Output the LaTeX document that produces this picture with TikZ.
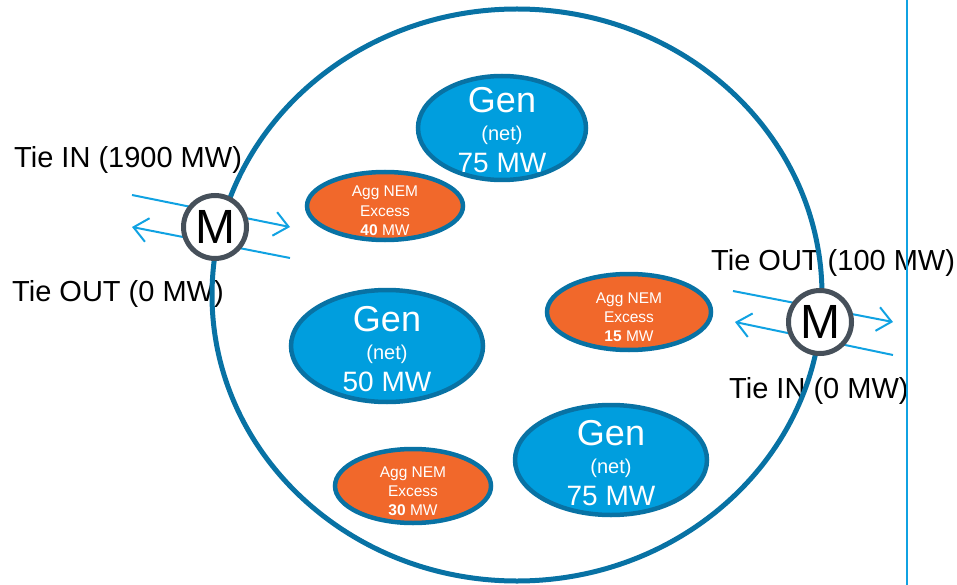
\documentclass[tikz,border=0pt]{standalone}
\usepackage{fontspec}
\setmainfont{Liberation Sans}
\usetikzlibrary{shapes.geometric,arrows.meta,calc}
\definecolor{rimblue}{RGB}{8,114,164}
\definecolor{genblue}{RGB}{0,158,222}
\definecolor{nemorange}{RGB}{241,104,43}
\definecolor{tieblue}{RGB}{16,162,226}
\definecolor{meter}{RGB}{70,80,90}
\begin{document}
\begin{tikzpicture}[x=1pt,y=-1pt,
  zone/.style={ellipse, draw=rimblue, line width=5pt, inner sep=0},
  genbox/.style={ellipse, draw=rimblue, fill=genblue, line width=4.5pt, inner sep=0},
  nembox/.style={ellipse, draw=rimblue, fill=nemorange, line width=4.5pt, inner sep=0},
  meterbox/.style={circle, draw=meter, fill=white, line width=5pt, minimum size=63pt, inner sep=0, font=\fontsize{48}{48}\selectfont},
  tie/.style={draw=tieblue, line width=2pt, -{Straight Barb[length=14pt,width=24pt,line width=2pt]}},
  tielabel/.style={font=\fontsize{29}{34}\selectfont, inner sep=0, anchor=base west},
  genbig/.style={text=white, font=\fontsize{36}{40}\selectfont, inner sep=0, anchor=base},
  gensmall/.style={text=white, font=\fontsize{20}{24}\selectfont, inner sep=0, anchor=base},
  genmw/.style={text=white, font=\fontsize{28}{32}\selectfont, inner sep=0, anchor=base},
  nemtext/.style={text=white, font=\fontsize{15.5}{18}\selectfont, inner sep=0, anchor=base},
  vline/.style={draw=tieblue, line width=2pt}
]
\useasboundingbox (0,0) rectangle (957,585);

% labels
\node[tielabel] (tinl) at (14,168) {Tie IN (1900 MW)};
\node[tielabel] (toutl) at (12,301) {Tie OUT (0 MW)};
\node[tielabel] (toutr) at (711,270) {Tie OUT (100 MW)};
\node[tielabel] (tinr) at (729,398) {Tie IN (0 MW)};

% zone boundary
\node[zone, minimum width=610pt, minimum height=572pt] (zone) at (517,295) {};

% vertical line
\coordinate (vtop) at (907,0);
\coordinate (vbot) at (907,585);
\draw[vline] (vtop) -- (vbot);

% tie arrows
\coordinate (la1) at (132,195);
\coordinate (la2) at (290,227);
\coordinate (lb1) at (290,258);
\coordinate (lb2) at (132,227);
\coordinate (ra1) at (733,291);
\coordinate (ra2) at (893,322);
\coordinate (rb1) at (893,355);
\coordinate (rb2) at (735,322);
\draw[tie] (la1) -- (la2);
\draw[tie] (lb1) -- (lb2);
\draw[tie] (ra1) -- (ra2);
\draw[tie] (rb1) -- (rb2);

% meters
\node[meterbox] (ml) at (215,227) {M};
\node[meterbox] (mr) at (820,322) {M};

% generators
\node[genbox, minimum width=168pt, minimum height=104pt] (g1) at (502,128) {};
\node[genbox, minimum width=192pt, minimum height=112pt] (g2) at (387,346) {};
\node[genbox, minimum width=192pt, minimum height=110pt] (g3) at (611,460) {};
\foreach \g/\v in {g1/75, g2/50, g3/75}{
  \node[genbig] at ($(\g)+(0,-15)$) {Gen};
  \node[gensmall] at ($(\g)+(0,13)$) {(net)};
  \node[genmw] at ($(\g)+(0,45)$) {\v\ MW};
}

% NEM excess
\node[nembox, minimum width=156pt, minimum height=68pt] (n1) at (385,206) {};
\node[nembox, minimum width=164pt, minimum height=76pt] (n2) at (629,312) {};
\node[nembox, minimum width=156pt, minimum height=74pt] (n3) at (413,486) {};
\foreach \n/\v in {n1/40, n2/15, n3/30}{
  \node[nemtext] at ($(\n)+(0,-9)$) {Agg NEM};
  \node[nemtext] at ($(\n)+(0,10)$) {Excess};
  \node[nemtext] at ($(\n)+(0,29)$) {\textbf{\v} MW};
}
\end{tikzpicture}
\end{document}
